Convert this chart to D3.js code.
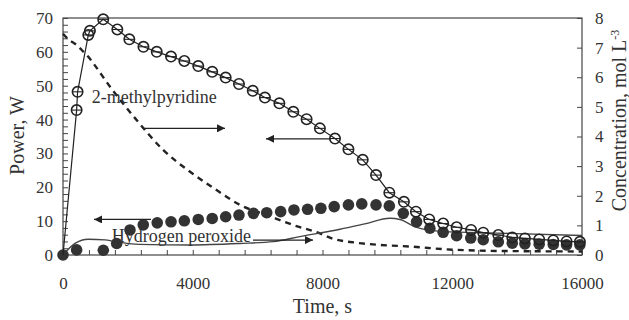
<!DOCTYPE html>
<html>
<head>
<meta charset="utf-8">
<script src="https://cdn.jsdelivr.net/npm/d3@7"></script>
<style>
  body { margin: 0; background: #fff; }
  svg text { font-family: "Liberation Serif", "Times New Roman", serif; fill: #333; }
</style>
</head>
<body>
<svg id="chart" width="629" height="320"></svg>
<script>
// power curve of the 2-methylpyridine run (open circles, left axis)
const pyrTime = [0, 420, 450, 780, 830, 1240, 1675, 2045, 2480, 2890, 3330, 3740, 4170, 4600, 5015, 5425,
  5850, 6225, 6670, 7100, 7510, 7920, 8385, 8800, 9240, 9650, 10060, 10510, 10880, 11290, 11720, 12135,
  12580, 12955, 13420, 13850, 14240, 14680, 15115, 15525, 15935];
const pyrPower = [0, 42.8, 48.2, 65, 66.2, 69.6, 66.6, 63.7, 61.5, 60, 58.6, 57.3, 55.8, 54.1, 52.4, 50.5,
  48.5, 46.5, 44.8, 42.3, 40.1, 37.4, 34.4, 31.2, 28.1, 23.6, 18.4, 15.7, 12.8, 10.5, 9.3, 8.2,
  7.4, 6.6, 5.9, 5.2, 4.9, 4.6, 4.3, 4.0, 3.9];

// power of the hydrogen peroxide run (filled circles, left axis)
const h2o2Time = [0, 420, 1243, 1655, 2065, 2475, 2905, 3330, 3740, 4170, 4600, 5015, 5425, 5870, 6280,
  6710, 7120, 7540, 7950, 8360, 8800, 9210, 9650, 10060, 10490, 10900, 11310, 11720, 12135, 12570,
  12955, 13420, 13850, 14240, 14680, 15115, 15525, 15935];
const h2o2Power = [0, 1.5, 1.4, 3.4, 7.4, 8.9, 9.5, 9.8, 10.1, 10.5, 10.8, 11.3, 11.8, 12.3, 12.5,
  12.8, 13.3, 13.5, 13.8, 14.3, 14.8, 15.1, 14.8, 14.5, 12.3, 9.8, 7.9, 6.7, 5.7, 5.0,
  4.5, 3.9, 3.5, 3.3, 3.2, 3.1, 3.0, 3.0];

// 2-methylpyridine concentration (dashed, right axis)
const pyrConcTime = [0, 165, 420, 630, 780, 935, 1450, 2220, 3095, 3915, 4735, 5455, 6280, 7100, 7920,
  8320, 9000, 9770, 10790, 11830, 12750, 14000, 16000];
const pyrConc = [7.47, 7.28, 7.09, 6.86, 6.69, 6.47, 5.68, 4.62, 3.54, 2.81, 2.19, 1.69, 1.35, 1.01, 0.73,
  0.55, 0.42, 0.34, 0.28, 0.19, 0.15, 0.13, 0.12];

// hydrogen peroxide concentration (thin line, right axis)
const h2o2ConcTime = [0, 370, 780, 1295, 1600, 2375, 3915, 5455, 6480, 7300, 8540, 9300, 10080, 10390,
  10900, 11720, 13370, 16000];
const h2o2Conc = [0, 0.39, 0.53, 0.51, 0.45, 0.36, 0.34, 0.39, 0.45, 0.62, 0.87, 1.05, 1.24, 1.2,
  0.93, 0.79, 0.74, 0.66];

const timeTicks = [0, 4000, 8000, 12000, 16000];
const powerTicks = [0, 10, 20, 30, 40, 50, 60, 70];
const concTicks = [0, 1, 2, 3, 4, 5, 6, 7, 8];

// annotations in data units (time, power)
const labels = [
  { text: '2-methylpyridine', t: 885, p: 44.9 },
  { text: 'Hydrogen peroxide', t: 1500, p: 3.8 }
];
const arrows = [
  { t0: 2466, t1: 4994, p: 37.4 },
  { t0: 8261, t1: 6258, p: 34.3 },
  { t0: 2713, t1: 956, p: 10.5 },
  { t0: 5857, t1: 7707, p: 4.4 }
];

const margin = { top: 18, right: 47, bottom: 65, left: 63 };
const width = 629 - margin.left - margin.right;
const height = 320 - margin.top - margin.bottom;
const serif = '"Liberation Serif", "Times New Roman", serif';

const svg = d3.select('#chart');
const g = svg.append('g').attr('transform', `translate(${margin.left},${margin.top})`);

const x = d3.scaleLinear().domain([0, 16000]).range([0, width]);
const y = d3.scaleLinear().domain([0, 70]).range([height, 0]);
const yR = d3.scaleLinear().domain([0, 8]).range([height, 0]);

const ink = '#222';

// frame
g.append('rect').attr('width', width).attr('height', height)
  .attr('fill', 'none').attr('stroke', '#444').attr('stroke-width', 1.2);

// axes
const styleAxis = sel => {
  sel.attr('font-family', serif);
  sel.select('.domain').remove();
  sel.selectAll('line').attr('stroke', '#444');
  sel.selectAll('text').style('font-size', '17px').style('font-family', serif).attr('fill', '#333');
};

g.append('g').call(d3.axisLeft(y).tickValues(d3.range(0, 71, 2)).tickSize(-5).tickFormat(''))
  .call(styleAxis);
g.append('g').call(d3.axisLeft(y).tickValues(powerTicks).tickSize(0).tickPadding(10))
  .call(styleAxis);

g.append('g').attr('transform', `translate(${width},0)`)
  .call(d3.axisRight(yR).tickValues(concTicks).tickSize(-5).tickPadding(13))
  .call(styleAxis);

g.append('g').attr('transform', `translate(0,${height})`)
  .call(d3.axisBottom(x).tickValues(d3.range(0, 16001, 800)).tickSize(-5).tickFormat(''))
  .call(styleAxis);
g.append('g').attr('transform', `translate(0,${height})`)
  .call(d3.axisBottom(x).tickValues(timeTicks).tickSize(0).tickPadding(22).tickFormat(d3.format('d')))
  .call(styleAxis);

// axis titles
g.append('text').attr('transform', `translate(-46,${height / 2 - 1}) rotate(-90)`)
  .attr('text-anchor', 'middle').attr('dy', '0.35em').style('font-size', '20px').text('Power, W');
g.append('text').attr('x', width / 2).attr('y', height + 58)
  .attr('text-anchor', 'middle').style('font-size', '20px').text('Time, s');
const rt = g.append('text').attr('transform', `translate(${width + 37},${height / 2 - 16}) rotate(-90)`)
  .attr('text-anchor', 'middle').attr('dy', '0.35em').style('font-size', '20px');
rt.append('tspan').text('Concentration, mol L');
rt.append('tspan').attr('dy', '-0.6em').style('font-size', '12px').text('-3');

// series
const zip = (a, b) => a.map((d, i) => [d, b[i]]);

const lineL = d3.line().x(d => x(d[0])).y(d => y(d[1]));
const curveR = d3.line().curve(d3.curveMonotoneX).x(d => x(d[0])).y(d => yR(d[1]));

g.append('path').datum(zip(pyrConcTime, pyrConc)).attr('d', curveR)
  .attr('fill', 'none').attr('stroke', ink).attr('stroke-width', 2.4).attr('stroke-dasharray', '6,5');

g.append('path').datum(zip(h2o2ConcTime, h2o2Conc)).attr('d', curveR)
  .attr('fill', 'none').attr('stroke', '#444').attr('stroke-width', 1.4);

g.append('g').selectAll('circle').data(zip(h2o2Time, h2o2Power)).join('circle')
  .attr('cx', d => x(d[0])).attr('cy', d => y(d[1])).attr('r', 5.8)
  .attr('fill', '#333');

const pyr = zip(pyrTime, pyrPower);
g.append('path').datum(pyr).attr('d', lineL)
  .attr('fill', 'none').attr('stroke', ink).attr('stroke-width', 1.2);

const mk = g.append('g').selectAll('g').data(pyr.slice(1)).join('g')
  .attr('transform', d => `translate(${x(d[0])},${y(d[1])})`);
mk.append('circle').attr('r', 5.2).attr('fill', 'none').attr('stroke', ink).attr('stroke-width', 1.6);
mk.append('line').attr('x1', -5.2).attr('x2', 5.2).attr('stroke', ink).attr('stroke-width', 1.1);

// annotations
svg.append('defs').append('marker').attr('id', 'head')
  .attr('viewBox', '0 0 10 10').attr('refX', 10).attr('refY', 5)
  .attr('markerWidth', 11).attr('markerHeight', 8).attr('markerUnits', 'userSpaceOnUse')
  .attr('orient', 'auto')
  .append('path').attr('d', 'M0,0L10,5L0,10z').attr('fill', ink);

g.append('g').selectAll('line').data(arrows).join('line')
  .attr('x1', d => x(d.t0)).attr('x2', d => x(d.t1))
  .attr('y1', d => y(d.p)).attr('y2', d => y(d.p))
  .attr('stroke', ink).attr('stroke-width', 1.3).attr('marker-end', 'url(#head)');

g.append('g').selectAll('text').data(labels).join('text')
  .attr('x', d => x(d.t)).attr('y', d => y(d.p))
  .style('font-size', '18px').style('font-family', serif).text(d => d.text);
</script>
</body>
</html>
